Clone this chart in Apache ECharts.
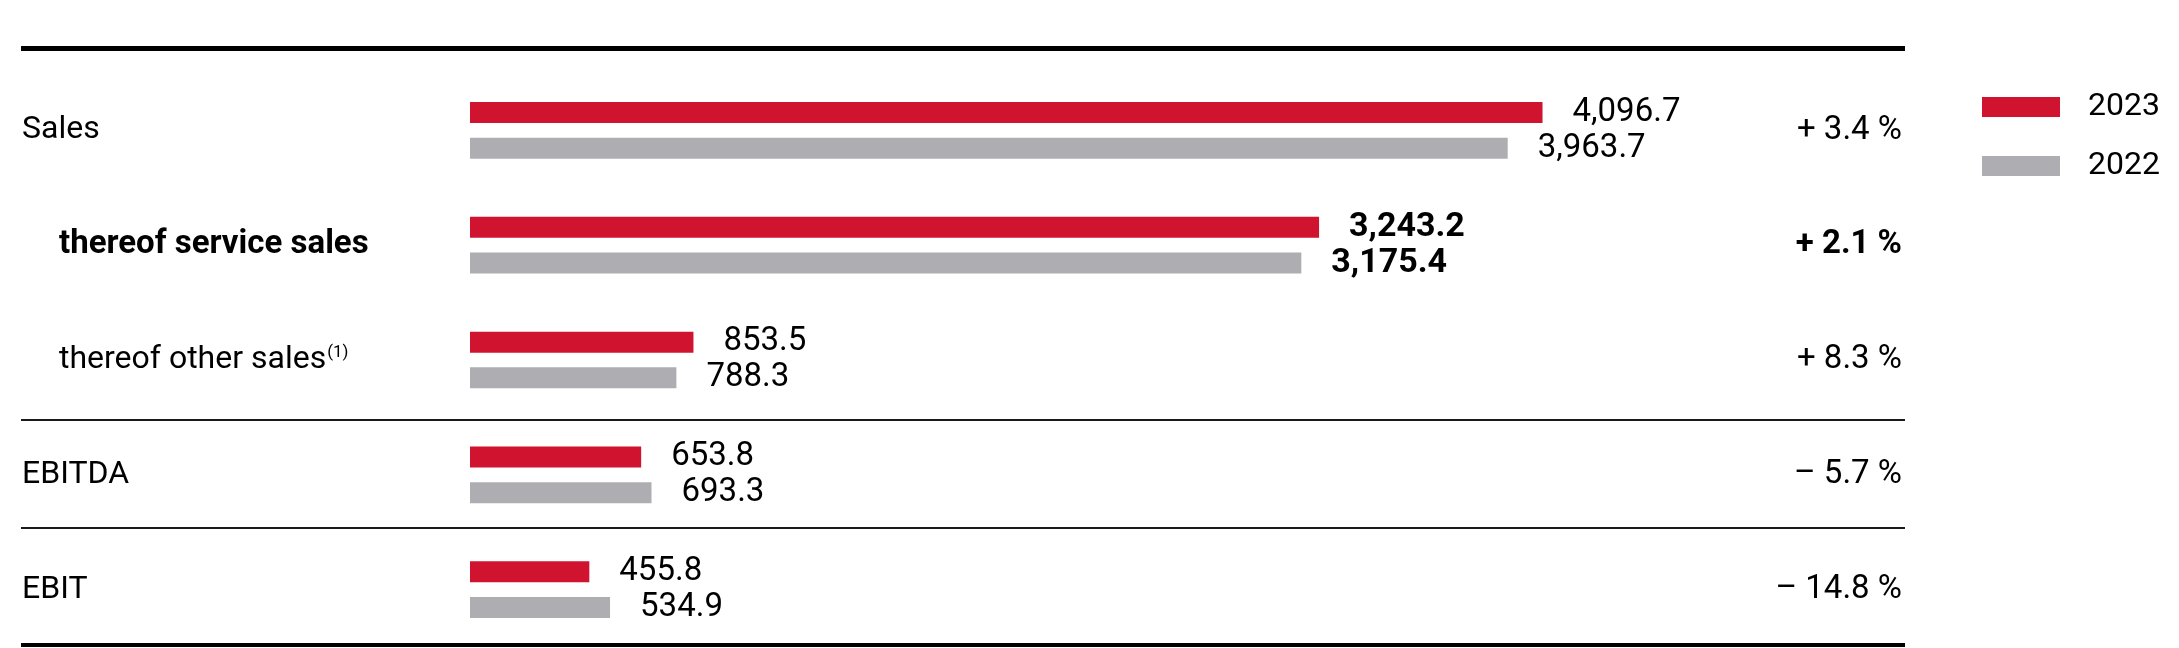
<!DOCTYPE html>
<html>
<head>
<meta charset="utf-8">
<title>Sales, EBITDA, EBIT</title>
<script src="https://cdn.jsdelivr.net/npm/echarts@6/dist/echarts.min.js"></script>
<style>
    html, body { margin: 0; padding: 0; background: #fff; }
    #grafica { width: 2179px; height: 648px; }
</style>
</head>
<body>
<div id="grafica"></div>
<script>
// datos
const categorias = ['Sales', 'thereof service sales', 'thereof other sales', 'EBITDA', 'EBIT'];
const notas = ['', '', '(1)', '', ''];
const valores2023 = [4096.7, 3243.2, 853.5, 653.8, 455.8];
const valores2022 = [3963.7, 3175.4, 788.3, 693.3, 534.9];
const variaciones = ['+ 3.4 %', '+ 2.1 %', '+ 8.3 %', '\u2013 5.7 %', '\u2013 14.8 %'];

const filaNegrita = 1;
const filasSangria = [1, 2];

const ROJO = '#d0132f';
const GRIS = '#aeaeb2';
const FUENTE = 'Roboto, "Noto Sans", sans-serif';

function formatoNumero(v) {
    return v.toLocaleString('en-US', { minimumFractionDigits: 1, maximumFractionDigits: 1 });
}

// etiquetas de barras, negritas solo en la fila destacada
function armarDatos(valores) {
    return valores.map((v, i) => ({
        value: v,
        label: i === filaNegrita ? { fontWeight: 'bold', fontSize: 34 } : { fontWeight: 'normal' }
    }));
}

let chartDom = document.getElementById('grafica');
let myChart = echarts.init(chartDom);

let etiquetaValor = {
    show: true,
    position: 'right',
    distance: 30,
    fontSize: 33,
    color: '#000',
    fontFamily: FUENTE,
    formatter: p => formatoNumero(p.value)
};

let option = {
    animation: false,
    textStyle: { fontFamily: FUENTE },
    grid: { left: 470, right: 400, top: 73, bottom: 1 },
    legend: {
        orient: 'vertical',
        left: 1982,
        top: 91,
        padding: 0,
        icon: 'rect',
        itemWidth: 78,
        itemHeight: 20,
        itemGap: 27,
        textStyle: { fontSize: 32, lineHeight: 32, color: '#000', padding: [0, 0, 0, 23], fontFamily: FUENTE },
        data: ['2023', '2022']
    },
    xAxis: { type: 'value', min: 0, max: 5000, show: false },
    yAxis: [
        {
            type: 'category',
            inverse: true,
            data: categorias,
            axisLine: { show: false },
            axisTick: { show: false },
            axisLabel: {
                align: 'left',
                margin: 448,
                formatter: function (value, idx) {
                    let estilo = (idx === filaNegrita ? 'b' : 'n') + (filasSangria.includes(idx) ? 'i' : '');
                    let txt = '{' + estilo + '|' + value + '}';
                    if (notas[idx]) txt += '{sup|' + notas[idx] + '}';
                    return txt;
                },
                rich: {
                    n: { fontSize: 32, color: '#000', fontFamily: FUENTE },
                    ni: { fontSize: 32, color: '#000', fontFamily: FUENTE, padding: [0, 0, 0, 37] },
                    bi: { fontSize: 33, color: '#000', fontFamily: FUENTE, fontWeight: 'bold', padding: [0, 0, 0, 37] },
                    sup: { fontSize: 17, color: '#000', fontFamily: FUENTE, verticalAlign: 'top', padding: [0, 0, 10, 1] }
                }
            }
        },
        {
            type: 'category',
            inverse: true,
            position: 'right',
            data: categorias,
            axisLine: { show: false },
            axisTick: { show: false },
            axisLabel: {
                align: 'right',
                margin: 123,
                formatter: function (value, idx) {
                    return '{' + (idx === filaNegrita ? 'b' : 'n') + '|' + variaciones[idx] + '}';
                },
                rich: {
                    n: { fontSize: 33, color: '#000', fontFamily: FUENTE },
                    b: { fontSize: 33, color: '#000', fontFamily: FUENTE, fontWeight: 'bold' }
                }
            }
        }
    ],
    series: [
        {
            name: '2023',
            type: 'bar',
            barWidth: 21,
            barGap: '70%',
            itemStyle: { color: ROJO },
            label: etiquetaValor,
            data: armarDatos(valores2023)
        },
        {
            name: '2022',
            type: 'bar',
            barWidth: 21,
            itemStyle: { color: GRIS },
            label: etiquetaValor,
            data: armarDatos(valores2022)
        }
    ],
    // lineas separadoras de la tabla
    graphic: [
        { type: 'rect', shape: { x: 21, y: 46, width: 1884, height: 5 }, style: { fill: '#000' }, silent: true },
        { type: 'rect', shape: { x: 21, y: 419, width: 1884, height: 2 }, style: { fill: '#1a1a1a' }, silent: true },
        { type: 'rect', shape: { x: 21, y: 527, width: 1884, height: 2 }, style: { fill: '#1a1a1a' }, silent: true },
        { type: 'rect', shape: { x: 21, y: 643, width: 1884, height: 4 }, style: { fill: '#000' }, silent: true }
    ]
};

option && myChart.setOption(option);
</script>
</body>
</html>
